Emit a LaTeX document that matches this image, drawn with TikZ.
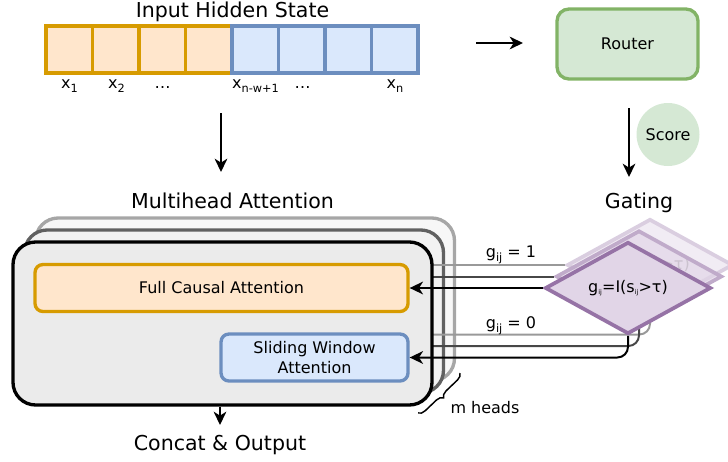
\documentclass[tikz,border=0pt]{standalone}
\usepackage{fontspec}
\setmainfont{DejaVu Sans}
\usetikzlibrary{arrows.meta,shapes.geometric,decorations.pathreplacing}
\definecolor{orfill}{HTML}{FFE6CC}
\definecolor{ordraw}{HTML}{D79B00}
\definecolor{blfill}{HTML}{DAE8FC}
\definecolor{bldraw}{HTML}{6C8EBF}
\definecolor{grfill}{HTML}{D5E8D4}
\definecolor{grdraw}{HTML}{82B366}
\definecolor{pufill}{HTML}{E1D5E7}
\definecolor{pudraw}{HTML}{9673A6}
\definecolor{headfill}{HTML}{EBEBEB}
% lowered index for labels
\newcommand\lsub[1]{\raisebox{-3.3pt}{\fontsize{8.5}{9}\selectfont #1}}
% tiny index used inside the gating rule
\newcommand\tsub[1]{\raisebox{-2pt}{\fontsize{5}{5}\selectfont #1}}
\newcommand\gatetext{g\tsub{ij}=I(s\tsub{ij}>τ)}
\begin{document}
\begin{tikzpicture}[x=0.75pt,y=-0.75pt,
  every node/.style={inner sep=0pt, font=\fontsize{12}{15}\selectfont},
  title/.style={font=\fontsize{15.4}{18}\selectfont, anchor=base},
  lbl/.style={anchor=base},
  cellA/.style={draw=ordraw, fill=orfill, line width=2.8pt,
    minimum width=34.875pt, minimum height=35.25pt},
  cellB/.style={cellA, draw=bldraw, fill=blfill},
  arr/.style={-{Stealth[length=10pt,width=9.5pt,inset=3pt]}, line width=1.5pt},
  headbox/.style={rounded corners=17pt, minimum width=314.25pt,
    minimum height=122.25pt, line width=2.5pt},
  attbox/.style={rounded corners=6pt, line width=2.5pt,
    minimum height=35.25pt, align=center},
  gateshape/.style={diamond, minimum width=124.5pt, minimum height=69pt,
    line width=2.8pt, aspect=1.8},
  copyline/.style={line width=1.5pt}
]
\useasboundingbox (0,0) rectangle (728,461);

% ---- input sequence ----
\node[title] (ttlin) at (232.5,17.3) {Input Hidden State};
\foreach \i in {0,...,3}
  \node[cellA] (c\i) at ({69.25+46.5*\i},49.5) {};
\foreach \i in {4,...,7}
  \node[cellB] (c\i) at ({69.25+46.5*\i},49.5) {};
\node[lbl] (x1) at (69.5,88) {x\lsub{1}};
\node[lbl] (x2) at (116.5,88) {x\lsub{2}};
\node[lbl] (xd1) at (162.5,88) {…};
\node[lbl] (xw) at (255.5,88) {x\lsub{n-w+1}};
\node[lbl] (xd2) at (302.5,88) {…};
\node[lbl] (xn) at (395,88) {x\lsub{n}};

\coordinate (inA) at (476,43);
\coordinate (inB) at (523,43);
\draw[arr] (inA) -- (inB);
\coordinate (dnA) at (221,113);
\coordinate (dnB) at (221,172);
\draw[arr] (dnA) -- (dnB);

% ---- router and score ----
\node[draw=grdraw, fill=grfill, line width=2.5pt, rounded corners=9pt,
  minimum width=105.75pt, minimum height=52.5pt] (router) at (627.5,44) {Router};
\coordinate (rtA) at (629,108);
\coordinate (rtB) at (629,177);
\draw[arr] (rtA) -- (rtB);
\node[circle, fill=grfill, minimum size=47.25pt] (score) at (668,134.5) {Score};

% ---- titles ----
\node[title] (ttlmh) at (232.5,208) {Multihead Attention};
\node[title] (ttlgt) at (639,208) {Gating};

% ---- stacked heads behind ----
\node[headbox, draw=black!35, fill=black!3] (head2) at (245,299.5) {};
\node[headbox, draw=black!62, fill=black!5] (head1) at (234,311.5) {};

% ---- gating copies for the other heads ----
\begin{scope}[shift={(22,-23)}]
  \node[gateshape, draw=pudraw!35, fill=pufill, fill opacity=0.45,
    text opacity=1, text=black!40] (gate2) at (628,288) {\gatetext};
  \coordinate (hi2) at (400,288);
  \coordinate (lo2) at (400,357.5);
  \draw[copyline, draw=black!40] (gate2.west) -- (hi2);
  \draw[copyline, draw=black!40, rounded corners=8pt] (gate2.south) |- (lo2);
\end{scope}
\begin{scope}[shift={(11,-11.5)}]
  \node[gateshape, draw=pudraw!60, fill=pufill, fill opacity=0.7] (gate1) at (628,288) {};
  \coordinate (hi1) at (400,288);
  \coordinate (lo1) at (400,357.5);
  \draw[copyline, draw=black!72] (gate1.west) -- (hi1);
  \draw[copyline, draw=black!72, rounded corners=8pt] (gate1.south) |- (lo1);
\end{scope}

% ---- front head ----
\node[headbox, draw=black, fill=headfill] (head) at (222.5,323.5) {};
\node[attbox, draw=ordraw, fill=orfill, minimum width=279.75pt]
  (fca) at (221.5,288) {Full Causal Attention};
\node[attbox, draw=bldraw, fill=blfill, minimum width=140.25pt]
  (swa) at (314.5,357.5) {Sliding Window\\Attention};

% ---- front gate and its routes ----
\node[gateshape, draw=pudraw, fill=pufill] (gate) at (628,288) {\gatetext};
\draw[arr] (gate.west) -- (fca.east);
\draw[arr, rounded corners=8pt] (gate.south) |- (swa.east);
\node[lbl] (gone) at (511,257) {g\lsub{ij} = 1};
\node[lbl] (gzero) at (511,328) {g\lsub{ij} = 0};

% ---- head count ----
\coordinate (brA) at (460,373);
\coordinate (brB) at (418,413);
\draw[decorate, decoration={brace, amplitude=5pt}, line width=1.1pt] (brA) -- (brB);
\node[lbl] (mh) at (485,413) {m heads};

% ---- output ----
\node[title] (ttlout) at (220,450) {Concat \& Output};
\coordinate (outB) at (220,425);
\draw[arr] (head.south -| outB) -- (outB);
\end{tikzpicture}
\end{document}
